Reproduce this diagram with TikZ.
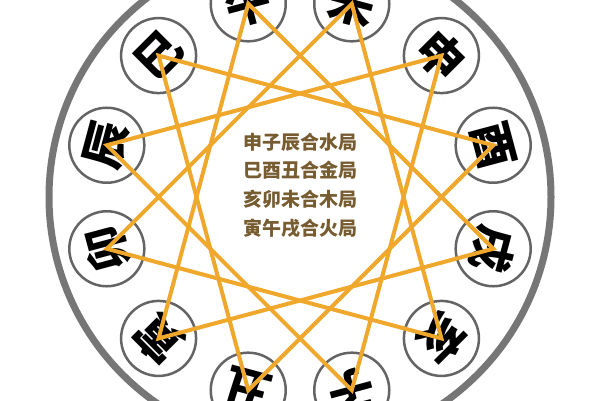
\documentclass[tikz,border=0pt]{standalone}
\usepackage{fontspec}
\newfontfamily\cjk{Noto Sans CJK SC}
\definecolor{starorange}{RGB}{240,168,44}
\definecolor{ringgray}{RGB}{118,118,118}
\definecolor{smallgray}{RGB}{100,100,100}
\definecolor{textbrown}{RGB}{118,92,48}
\tikzset{
  slot/.style={circle,draw=smallgray,line width=2.5pt,fill=white,minimum size=75pt,inner sep=0pt},
  glyph/.style={font=\cjk\bfseries\fontsize{46}{46}\selectfont,inner sep=0pt,text=black},
  starline/.style={draw=starorange,line width=4pt,line join=miter},
  midtext/.style={font=\cjk\bfseries\fontsize{19}{19}\selectfont,text=textbrown,inner sep=0pt}
}
\begin{document}
\begin{tikzpicture}[x=1pt,y=1pt]
\useasboundingbox (0,0) rectangle (600,400);
\clip (0,0) rectangle (600,400);
\fill[white] (0,0) rectangle (600,400);
\begin{scope}[shift={(300,203)}]
\draw[ringgray,line width=7pt] (0,0) circle (251);
\foreach \ang/\nm/\ch in {-75/zi/子,-105/chou/丑,-135/yin/寅,-165/mao/卯,165/chen/辰,135/si/巳,105/wu/午,75/wei/未,45/shen/申,15/you/酉,-15/xu/戌,-45/hai/亥}{
  \node[slot] (\nm) at (\ang:200) {};
  \pgfmathsetmacro{\rot}{\ang-90}
  \node[glyph,rotate=\rot] (g-\nm) at (\ang:200) {\ch};
}
\draw[starline] (shen.center) -- (zi.center) -- (chen.center) -- cycle;
\draw[starline] (si.center) -- (you.center) -- (chou.center) -- cycle;
\draw[starline] (hai.center) -- (mao.center) -- (wei.center) -- cycle;
\draw[starline] (yin.center) -- (wu.center) -- (xu.center) -- cycle;
\node[midtext] (l1) at (0,55) {申子辰合水局};
\node[midtext] (l2) at (0,27) {巳酉丑合金局};
\node[midtext] (l3) at (0,-2) {亥卯未合木局};
\node[midtext] (l4) at (0,-31) {寅午戌合火局};
\end{scope}
\end{tikzpicture}
\end{document}
